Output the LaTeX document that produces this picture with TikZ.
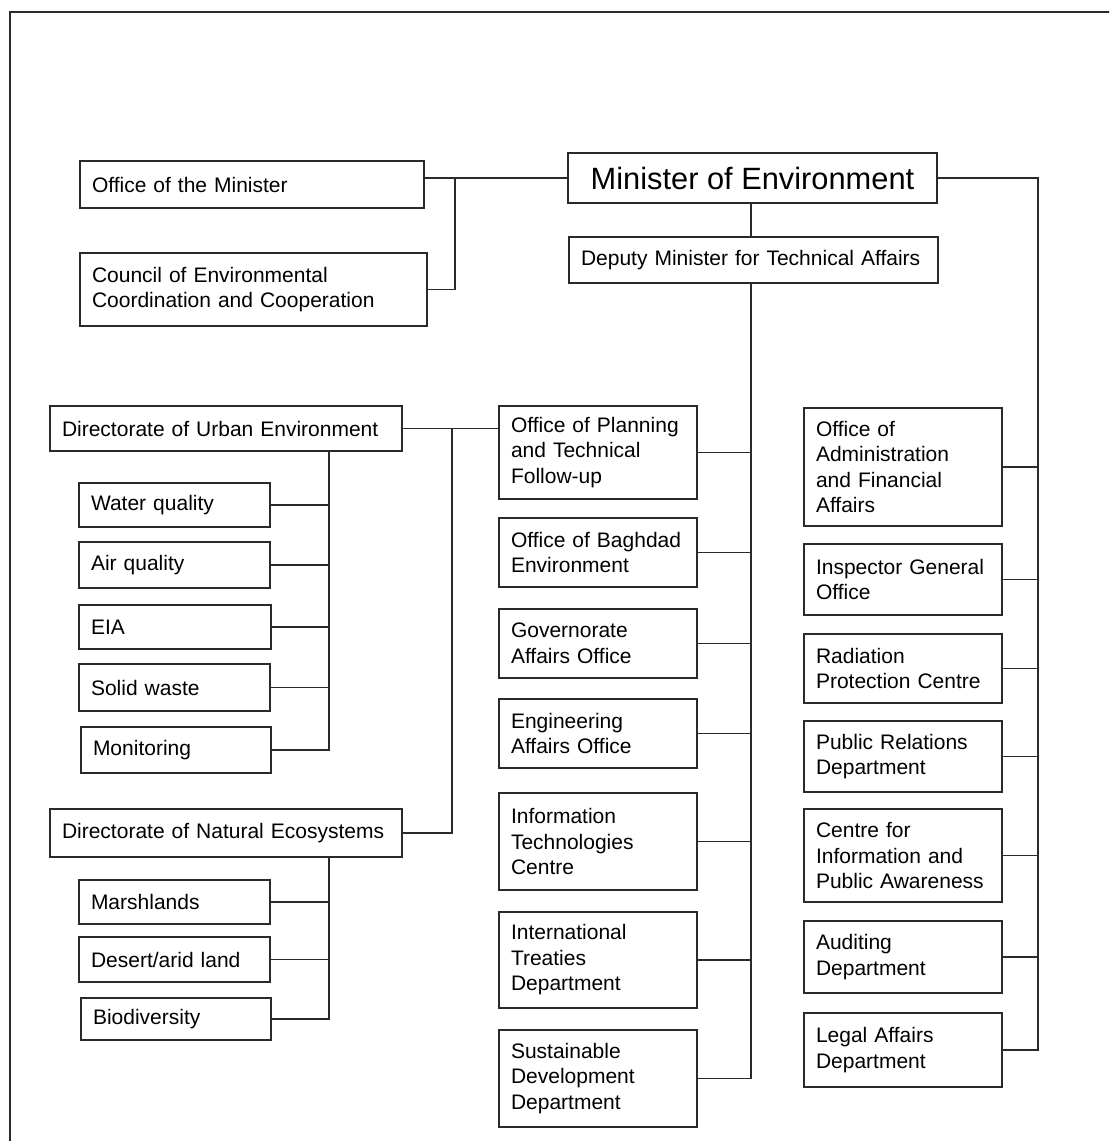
\documentclass[tikz,border=0pt]{standalone}
\usepackage{fontspec}
\setmainfont{Liberation Sans}
\begin{document}
\begin{tikzpicture}[x=1pt,y=-1pt,
  box/.style={draw=linecol,line width=1.4pt,inner xsep=12pt,inner ysep=0pt,align=left,
    font=\fontsize{21}{25.5}\selectfont,text=black},
  conn/.style={draw=linecol,line width=1.4pt}]
\definecolor{linecol}{HTML}{2A2A2A}
\newcommand\bx[6]{%
  \pgfmathsetmacro\bw{#4-#2}\pgfmathsetmacro\bh{#5-#3}\pgfmathsetmacro\tw{#4-#2-24}%
  \pgfmathsetmacro\cx{(#2+#4)/2}\pgfmathsetmacro\cy{(#3+#5)/2}%
  \node[box,minimum width=\bw pt,minimum height=\bh pt,text width=\tw pt] (#1) at (\cx,\cy) {#6};}
\useasboundingbox (0,0) rectangle (1109,1141);
\clip (0,0) rectangle (1109,1141);
\fill[white] (0,0) rectangle (1109,1141);
\draw[line width=1.6pt,draw=linecol] (10,12) rectangle (1130,1160);
% top
\node[box,align=center,font=\fontsize{30.8}{34}\selectfont,minimum width=369pt,minimum height=50pt,inner xsep=0pt] (min) at (752.5,178) {Minister of Environment};
\bx{om}{80}{161}{424}{208}{Office of the Minister}
\bx{council}{80}{253}{427}{326}{Council of Environmental\\Coordination and Cooperation}
\bx{dep}{569}{237}{938}{283}{Deputy Minister for Technical Affairs}
% left
\bx{ue}{50}{406}{402}{451}{Directorate of Urban Environment}
\bx{wq}{79}{483}{270}{527}{Water quality}
\bx{aq}{79}{542}{270}{588}{Air quality}
\bx{eia}{79}{605}{271}{649}{EIA}
\bx{sw}{79}{664}{270}{711}{Solid waste}
\bx{mon}{81}{727}{271}{773}{Monitoring}
\bx{ne}{50}{809}{402}{857}{Directorate of Natural Ecosystems}
\bx{mar}{79}{880}{270}{924}{Marshlands}
\bx{des}{79}{937}{270}{982}{Desert/arid land}
\bx{bio}{81}{998}{271}{1040}{Biodiversity}
% middle
\bx{plan}{499}{406}{697}{499}{Office of Planning\\and Technical\\Follow-up}
\bx{bag}{499}{518}{697}{587}{Office of Baghdad\\Environment}
\bx{gov}{499}{609}{697}{678}{Governorate\\Affairs Office}
\bx{eng}{499}{699}{697}{768}{Engineering\\Affairs Office}
\bx{itc}{499}{793}{697}{890}{Information\\Technologies\\Centre}
\bx{itd}{499}{912}{697}{1008}{International\\Treaties\\Department}
\bx{sdd}{499}{1030}{697}{1127}{Sustainable\\Development\\Department}
% right
\bx{adm}{804}{408}{1002}{526}{Office of\\Administration\\and Financial\\Affairs}
\bx{ig}{804}{544}{1002}{615}{Inspector General\\Office}
\bx{rad}{804}{634}{1002}{703}{Radiation\\Protection Centre}
\bx{pr}{804}{721}{1002}{792}{Public Relations\\Department}
\bx{cia}{804}{809}{1002}{902}{Centre for\\Information and\\Public Awareness}
\bx{aud}{804}{921}{1002}{993}{Auditing\\Department}
\bx{leg}{804}{1013}{1002}{1087}{Legal Affairs\\Department}
% bus coordinates
\coordinate (mbus) at (455,0);
\coordinate (rbus) at (1038,0);
\coordinate (dbus) at (751,0);
\coordinate (ubus) at (329,0);
\coordinate (lbus) at (452,0);
% connectors
\draw[conn] (min.west) -- (min.west -| om.east);
\draw[conn] (mbus |- min.west) -- (mbus |- council.east) -- (council.east);
\draw[conn] (min.east) -- (min.east -| rbus) -- (rbus |- leg.east) -- (leg.east);
\foreach \n in {adm,ig,rad,pr,cia,aud} \draw[conn] (\n.east) -- (\n.east -| rbus);
\draw[conn] (dbus |- min.south) -- (dbus |- dep.north);
\draw[conn] (dbus |- dep.south) -- (dbus |- sdd.east) -- (sdd.east);
\foreach \n in {plan,bag,gov,eng,itc,itd} \draw[conn] (\n.east) -- (\n.east -| dbus);
\draw[conn] (ue.east) -- (ue.east -| plan.west);
\draw[conn] (lbus |- ue.east) -- (lbus |- ne.east) -- (ne.east);
\draw[conn] (ubus |- ue.south) -- (ubus |- mon.east) -- (mon.east);
\foreach \n in {wq,aq,eia,sw} \draw[conn] (\n.east) -- (\n.east -| ubus);
\draw[conn] (ubus |- ne.south) -- (ubus |- bio.east) -- (bio.east);
\foreach \n in {mar,des} \draw[conn] (\n.east) -- (\n.east -| ubus);
\end{tikzpicture}
\end{document}
